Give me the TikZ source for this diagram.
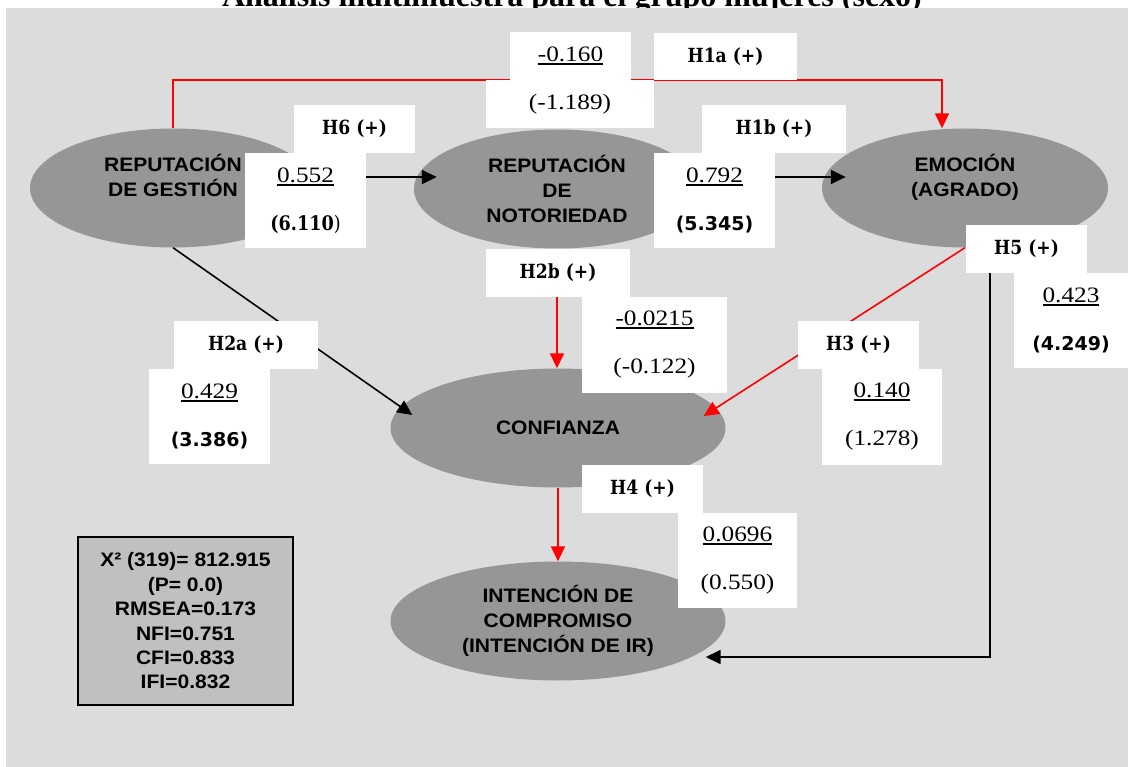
\documentclass[tikz,border=0pt]{standalone}
\usepackage{fontspec}
\setmainfont{Liberation Serif}
\newfontfamily\fuentetitulo{Liberation Serif}
\newfontfamily\fuenteconstructo{Liberation Sans}[FakeStretch=1.08]
\newfontfamily\fuentehipotesis{DejaVu Serif}[FakeStretch=0.88]
\newfontfamily\fuentevalor{Liberation Serif}[FakeStretch=1.15]
\newfontfamily\fuentet{DejaVu Sans}
\usetikzlibrary{shapes.geometric,arrows.meta}
\definecolor{fondo}{HTML}{DCDCDC}
\definecolor{grisconstructo}{HTML}{969696}
\definecolor{grisajuste}{HTML}{C0C0C0}
\newcommand{\subrayado}[1]{\setbox0\hbox{#1}\rlap{\rule[-3.5pt]{\wd0}{2.2pt}}\box0}
\newcommand{\tnegrita}[1]{{\fuentet\bfseries\fontsize{19}{48}\selectfont #1}}

\begin{document}
\begin{tikzpicture}[
  x=1pt, y=-1pt,
  constructo/.style={ellipse, fill=grisconstructo, minimum width=286pt, minimum height=119pt, inner sep=0pt, align=center, font=\fuenteconstructo\bfseries\fontsize{19.5}{25}\selectfont},
  hipotesis/.style={rectangle, fill=white, inner sep=0pt, minimum height=48pt, font=\fuentehipotesis\bfseries\fontsize{19.5}{20}\selectfont},
  valor/.style={rectangle, fill=white, inner sep=0pt, align=center, font=\fuentevalor\fontsize{22}{48}\selectfont},
  ajuste/.style={rectangle, draw=black, line width=1.6pt, fill=grisajuste, minimum width=215pt, minimum height=168pt, align=center, font=\fuenteconstructo\bfseries\fontsize{19.5}{24.4}\selectfont},
  flecha/.style={-{Triangle[length=15pt,width=14pt]}, draw=black, line width=1.6pt},
  flecharoja/.style={flecha, draw=red}
]
\useasboundingbox (0,0) rectangle (1128,767);
\node[font=\fuentetitulo\bfseries\fontsize{32}{36}\selectfont, anchor=base, inner sep=0pt] (titulo) at (572,7) {Análisis multimuestra para el grupo mujeres (sexo)};
\fill[fondo] (6,8) rectangle (1128,767);
\node[constructo] (gestion) at (173,188) {REPUTACIÓN\\DE GESTIÓN\\\phantom{X}};
\node[constructo] (notoriedad) at (557,189) {REPUTACIÓN\\DE\\NOTORIEDAD};
\node[constructo] (emocion) at (965,188) {EMOCIÓN\\(AGRADO)\\\phantom{X}};
\node[constructo, minimum width=335pt] (confianza) at (558,428) {CONFIANZA};
\node[constructo, minimum width=335pt] (intencion) at (558,621) {INTENCIÓN DE\\COMPROMISO\\(INTENCIÓN DE IR)};
\coordinate (codo1a) at (942,80);
\coordinate (codo5) at (990,657);
\draw[flecharoja] (gestion.north) |- (codo1a) -- (codo1a |- emocion.north);
\draw[flecha] ([yshift=11pt]gestion.east) -- ([xshift=23pt,yshift=12pt]notoriedad.west);
\draw[flecha] ([yshift=12pt]notoriedad.east) -- ([xshift=24pt,yshift=11pt]emocion.west);
\draw[flecharoja] (notoriedad.south) -- (notoriedad.south |- confianza.north);
\draw[flecha] (gestion.south) -- ([xshift=22pt,yshift=13pt]confianza.west);
\draw[flecharoja] (emocion.south) -- ([xshift=-22pt,yshift=12pt]confianza.east);
\draw[flecharoja] (confianza.south) -- (intencion.north);
\draw[flecha] (codo5 |- emocion.south) -- (codo5) -- ([xshift=-20pt,yshift=-36pt]intencion.east);
\node[hipotesis, minimum width=143pt, minimum height=47pt] (h1a) at (725.5,56.5) {H1a (+)};
\node[valor, minimum width=121pt, minimum height=48pt] (v1a) at (570.5,56) {\subrayado{-0.160}};
\node[valor, minimum width=168pt, minimum height=48pt] (t1a) at (570,104) {(-1.189)};
\node[hipotesis, minimum width=121pt] (h6) at (354.5,129) {H6 (+)};
\node[valor, minimum width=121pt, minimum height=95pt] (v6) at (305.5,200.5) {\subrayado{0.552}\\{\fuentehipotesis\fontsize{20}{48}\selectfont\textbf{(6.110})}};
\node[hipotesis, minimum width=144pt] (h1b) at (774,129) {H1b (+)};
\node[valor, minimum width=121pt, minimum height=95pt] (v1b) at (714.5,200.5) {\subrayado{0.792}\\\tnegrita{(5.345)}};
\node[hipotesis, minimum width=144pt] (h2b) at (558,273) {H2b (+)};
\node[valor, minimum width=145pt, minimum height=96pt] (v2b) at (654.5,345) {\subrayado{-0.0215}\\(-0.122)};
\node[hipotesis, minimum width=144pt] (h2a) at (246,345) {H2a (+)};
\node[valor, minimum width=121pt, minimum height=95pt] (v2a) at (209.5,416.5) {\subrayado{0.429}\\\tnegrita{(3.386)}};
\node[hipotesis, minimum width=121pt] (h3) at (858.5,345) {H3 (+)};
\node[valor, minimum width=120pt, minimum height=96pt] (v3) at (882,417) {\subrayado{0.140}\\(1.278)};
\node[hipotesis, minimum width=121pt] (h5) at (1026.5,249) {H5 (+)};
\node[valor, minimum width=114pt, minimum height=95pt] (v5) at (1071,320.5) {\subrayado{0.423}\\\tnegrita{(4.249)}};
\node[hipotesis, minimum width=121pt] (h4) at (642.5,489) {H4 (+)};
\node[valor, minimum width=119pt, minimum height=95pt] (v4) at (737.5,560.5) {\subrayado{0.0696}\\(0.550)};
\node[ajuste] (indices) at (185.5,621) {X² (319)= 812.915\\(P= 0.0)\\RMSEA=0.173\\NFI=0.751\\CFI=0.833\\IFI=0.832};
\end{tikzpicture}
\end{document}
